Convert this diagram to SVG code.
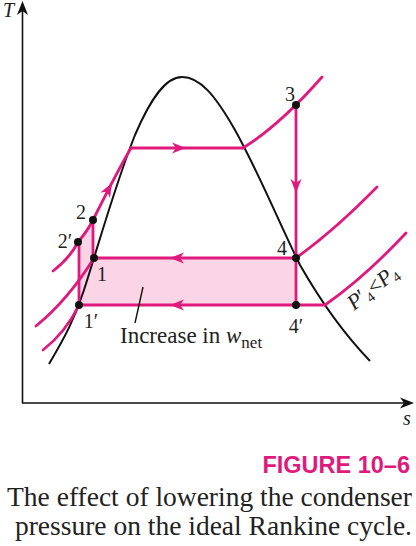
<svg xmlns="http://www.w3.org/2000/svg" xmlns:xlink="http://www.w3.org/1999/xlink" width="416" height="546" viewBox="0 0 416 546">
<style>
.pk{fill:none;stroke:#e0197d;stroke-width:2.8;stroke-linecap:round;stroke-linejoin:round}
.dome{fill:none;stroke:#111;stroke-width:2}
.axis{fill:none;stroke:#111;stroke-width:1.6}
.dot{fill:#111}
.lbl{font-family:"Liberation Serif",serif;font-size:20px;fill:#222}
.cap{font-family:"Liberation Serif",serif;font-size:27.5px;fill:#222}
.fig{font-family:"Liberation Sans",sans-serif;font-weight:bold;font-size:23.5px;fill:#e0197d}
</style>
<defs>
<path id="ah" d="M0,0 L-14,-5.5 L-10,0 L-14,5.5 Z"/>
</defs>
<g id="axes">
<path class="axis" d="M22.5,403 V6 M22,403 H410"/>
<use xlink:href="#ah" transform="translate(22.5,1) rotate(-90)" fill="#111"/>
<use xlink:href="#ah" transform="translate(414,403)" fill="#111"/>
<text class="lbl" x="3" y="17" font-style="italic">T</text>
<text class="lbl" x="403" y="425" font-style="italic">s</text>
</g>
<g id="shade">
<path d="M78,242 C84,235 89,228 93,220 L93,258 L296,258 L296,305 L79,305 Z" fill="#fbd5e5"/>
</g>
<g id="dome">
<path class="dome" d="M49,364 C65,337 75,318 84,290 C100,240 115,185 135,135 C150,100 165,77 182,77 C200,77 215,95 235,130 C260,175 280,225 300,265 C320,300 345,335 370,361"/>
</g>
<g id="connectors">
<path class="pk" d="M53,271 C66,261 73,252 78,242 C84,235 89,228 93,220 C103,200 118,170 131,148"/>
<path class="pk" d="M36,326 Q68,300 94,258"/>
<path class="pk" d="M43,350 Q66,332 79,305"/>
<path class="pk" d="M131,148 H243"/>
<path class="pk" d="M243,148 Q280,125 322,77"/>
<path class="pk" d="M296,105 V305"/>
<path class="pk" d="M94,258 H296"/>
<path class="pk" d="M79,305 H325"/>
<path class="pk" d="M79,242 V305"/>
<path class="pk" d="M93,220 V258"/>
<path class="pk" d="M296,258 Q335,230 377,187"/>
<path class="pk" d="M325,305 Q365,277 406,233"/>
<g fill="#e0197d">
<use xlink:href="#ah" transform="translate(186,148)"/>
<use xlink:href="#ah" transform="translate(296,193) rotate(90)"/>
<use xlink:href="#ah" transform="translate(170,258) rotate(180)"/>
<use xlink:href="#ah" transform="translate(170,305) rotate(180)"/>
<use xlink:href="#ah" transform="translate(112,183) rotate(-61)"/>
</g>
<path d="M143,287 L135,323" stroke="#111" stroke-width="1.4" fill="none"/>
</g>
<g id="p3"><circle class="dot" cx="296" cy="105" r="4"/><text class="lbl" x="290" y="101" text-anchor="middle">3</text></g>
<g id="p2"><circle class="dot" cx="93" cy="220" r="4"/><text class="lbl" x="81" y="219" text-anchor="middle">2</text></g>
<g id="p2p"><circle class="dot" cx="78" cy="242" r="4"/><text class="lbl" x="65" y="248" text-anchor="middle">2′</text></g>
<g id="p1"><circle class="dot" cx="94" cy="258" r="4"/><text class="lbl" x="102" y="281" text-anchor="middle">1</text></g>
<g id="p1p"><circle class="dot" cx="79" cy="305" r="4"/><text class="lbl" x="91" y="328" text-anchor="middle">1′</text></g>
<g id="p4"><circle class="dot" cx="296" cy="258" r="4"/><text class="lbl" x="282" y="255" text-anchor="middle">4</text></g>
<g id="p4p"><circle class="dot" cx="296" cy="305" r="4"/><text class="lbl" x="296" y="333" text-anchor="middle">4′</text></g>
<g id="wnet">
<text class="lbl" x="120" y="343" style="font-size:23px">Increase in <tspan font-style="italic">w</tspan><tspan font-size="17" dy="5">net</tspan></text>
</g>
<g id="plabel">
<text class="lbl" transform="translate(354,311) rotate(-38)" style="font-size:22px"><tspan font-style="italic">P</tspan>′<tspan font-size="14" dy="4">4</tspan><tspan dy="-4">&lt;</tspan><tspan font-style="italic">P</tspan><tspan font-size="14" dy="4">4</tspan></text>
</g>
<g id="caption">
<text class="fig" x="410" y="473" text-anchor="end">FIGURE 10–6</text>
<text class="cap" x="412" y="506" text-anchor="end">The effect of lowering the condenser</text>
<text class="cap" x="412" y="535" text-anchor="end">pressure on the ideal Rankine cycle.</text>
</g>
</svg>
